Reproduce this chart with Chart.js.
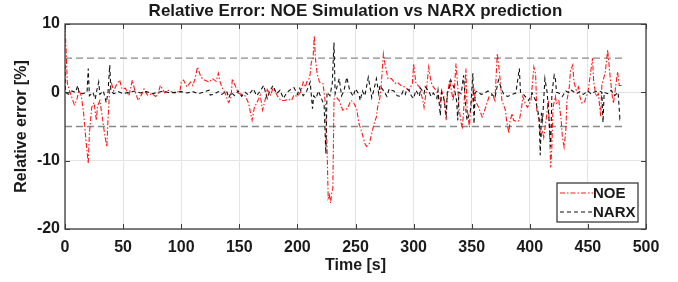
<!DOCTYPE html>
<html>
<head>
<meta charset="utf-8">
<script src="https://cdn.jsdelivr.net/npm/chart.js@4.4.1/dist/chart.umd.min.js"></script>
<style>
  html, body { margin: 0; padding: 0; background: #fff; }
  #wrap { width: 678px; height: 282px; }
</style>
</head>
<body>
<div id="wrap"><canvas id="err-chart" width="678" height="282"></canvas></div>
<script>
// NOE simulation relative error [%] vs time [s]
const noeTime = [0, 1, 2, 4, 6, 8, 10, 12, 14, 16, 18, 20, 21, 23, 25, 27, 28, 30, 32, 34, 36, 37, 38.5, 40, 42, 44, 47, 49, 52, 55, 58, 60, 63, 66, 68, 71, 75, 78, 80, 82, 86, 89, 94, 99, 100, 102, 105, 108, 110, 112, 114, 117, 120, 124, 127, 130, 132, 133, 135, 138, 140, 141, 143, 144, 145, 147, 149, 152, 155, 158, 161, 163, 166, 168, 170, 173, 174, 177, 179, 181, 183, 186, 189, 192, 195, 197, 200, 203, 205, 207, 208, 210, 211, 212, 213.5, 214.5, 215.5, 217, 219, 222, 224, 225.5, 226.5, 227.5, 228.5, 229.5, 230.5, 231.5, 234, 236, 239, 243, 246, 248, 251, 253, 255, 256.5, 258, 259.5, 262, 264, 266, 268, 269, 271, 272, 273, 274, 275.5, 277, 278, 281, 284, 286, 289, 292, 293, 296, 299, 300, 302, 305, 308, 309, 311, 313, 315, 317, 320, 321, 323, 324, 326, 328, 329, 331, 332, 334, 335, 336.5, 338, 339, 341, 342, 343, 345, 346, 348, 349, 352, 353, 356, 359, 362, 365, 368, 370, 372, 374, 376, 379, 380, 382, 383, 385, 386, 389, 391, 393, 394, 396, 398, 399, 401, 403.5, 405, 406, 408, 409.5, 411, 412, 414, 416, 417, 418, 419, 420, 422, 423, 425, 427, 428, 429.5, 431, 432, 434, 435, 437, 438, 440, 442, 443, 445, 447, 450, 454, 455, 457, 459, 461, 462, 465, 467, 469, 471, 472, 474, 475.5, 477, 480];
const noeError = [9.5, 6, 1.3, 0.2, -0.8, -1.8, -1.2, 0.3, -0.5, -3, -7, -10.4, -6, -2.2, -1.5, -4.1, -2, -1.2, -3.5, -6, -8, -4, 0.6, 1.3, 0.2, 1, 1.8, 0.5, 0.6, -0.5, 1.8, 0.3, -1.2, -0.3, 0.5, -0.4, -0.2, -0.6, -0.3, 1.0, -0.1, 0.3, -0.1, 0.2, 1.5, 1.8, 0.8, 1.5, 1.0, 2.0, 3.7, 2.2, 1.8, 1.5, 2.0, 1.6, 2.8, 1.8, 0.8, -0.2, -1.2, -1.5, -0.6, 2.0, 1.5, 0.8, -0.1, -0.3, -0.5, -1.6, -4.1, -2.2, -1.2, -0.4, -2.6, -0.6, 0.4, -0.4, 0.6, 0.1, -0.6, -1.2, -1.2, -1.0, -1.2, -0.4, -0.6, 0.1, 1.5, 0.8, 1.5, 2.0, 2.7, 4.4, 5, 8.3, 5, 2.7, 1.5, 1.3, -1.5, -8, -15.5, -15.0, -16.2, -14.8, -14, -1.0, -0.8, -1.2, -2.6, -2.4, -1.2, -1.4, -2.4, -4.6, -5.6, -6.5, -7.5, -7.9, -7.5, -6, -4.6, -3.6, -2.2, -0.8, 0.7, 3.2, 5.6, 4.0, 2.8, 2.0, 2.0, 1.3, 1.5, 1.0, 0.8, 0.7, 0.3, 1.3, 4.2, 1.3, 0.8, -1.2, -2.2, 0.3, 3.7, 1.5, 0.8, 0.1, -0.6, -1.6, 0.3, -0.6, -4.1, -0.6, 1.8, 0.8, -1.2, 0.3, 4.2, 0.8, -2.2, -4.6, -5.1, -3.0, 3.5, -2.2, -5.1, -2.6, 0.7, -1.2, -2.2, -3.6, -2.2, -0.6, -0.4, -1.2, 5.7, 2.8, -1.2, -2.6, -4.1, -6.0, -4.1, -3.1, -4.1, -4.3, -4.1, -2.2, -0.6, -1.6, -2.2, -1.9, -1.2, 3.7, 2.7, -2.6, -4.1, -6.6, -5.6, -6.6, -4.1, -1.2, -6.0, -11, -8, -2.2, -0.6, -1.6, -1.2, -4.1, -6.5, -8.0, -5.6, -1.2, 0.8, 3.2, 4.0, 1.5, 0.3, 0.8, -0.6, -1.6, -1.4, 0, 5.0, 1.5, -0.6, -0.2, -3.5, 1.0, 3, 6.2, 2.5, -0.6, -1.6, 1, 3.0, 1.0, 1.0];

// NARX prediction relative error [%] vs time [s]
const narxTime = [0, 0.5, 3, 6, 9, 11, 12, 15, 19, 20, 21, 24, 26, 27, 29, 30, 33, 35.5, 37, 38.5, 39.5, 42, 46, 50, 55, 60, 65, 70, 75, 80, 85, 90, 95, 100, 105, 110, 115, 120, 124, 125, 128, 132, 135, 139, 141, 143, 146, 149, 152, 155, 158, 162, 165, 168, 171, 174, 176, 179, 182, 185, 188, 191, 194, 197, 200, 202, 205, 208, 211, 213, 214, 216, 218, 220, 223, 224.5, 225.5, 228, 230, 231.5, 232.5, 236, 238, 240, 242.5, 245, 248, 250, 253, 254, 256, 258, 261, 263, 264, 266, 268, 270, 271, 273, 275, 277, 279, 281, 283, 286, 289, 291, 293, 294, 296, 298, 300, 302, 305, 306, 309, 310, 313, 315, 317, 320, 321, 323, 324, 326, 328, 329, 331, 332, 335, 337, 338, 339, 341, 343, 345, 346, 349, 350, 351, 352, 353, 355, 358, 360, 364, 367, 370, 373, 376, 378, 381, 385, 388, 391, 392, 394, 396, 399, 402, 405, 408, 409, 410, 411, 413, 415, 416, 418, 419, 421, 422, 423, 425, 428, 431, 434, 436, 440, 443, 446, 450, 453, 456, 460, 462, 463, 464, 467, 470, 473, 476, 477.5, 478];
const narxError = [4, 0, -0.3, 0.2, 0, 1.0, 0, -0.2, 0, 3.5, -0.5, 0, -1.0, 0, 1.5, -0.3, 0.2, -1.5, 0, 4, 0.2, -0.2, 0.1, -0.2, 0, 0.2, -0.1, 0.1, -0.2, 0, 0.2, -0.1, 0, 0.1, -0.1, 0.1, -0.2, 0.1, 0.3, -0.4, -0.3, 0.1, -0.3, 0.2, -0.8, 0, -0.5, 0.2, -0.6, 0, -0.4, 0.5, -0.5, 0.2, 1.0, -0.9, 0.1, 1.0, -0.2, 0.3, -0.9, 0, 0.4, 0.7, -0.3, 0.6, -0.5, 0.2, 1.5, -2.4, -0.5, -0.9, 0.2, -0.6, -1.9, -9, 0, -0.5, 1.3, 7.3, -0.2, 2.0, -0.5, 0.2, 2.2, 0.3, -0.6, 0.5, -0.3, -1.2, 0.2, -0.5, 2.2, 0.3, -0.8, 0.5, 2.0, -0.2, 1.0, 0.5, 0, -0.6, 0.5, 0.3, 0.2, -0.5, -0.6, 0.2, -0.3, 0.5, 0.3, -0.5, -0.9, 0.3, -0.6, 0.6, -0.2, 0.8, 0.2, -0.6, -0.1, -0.9, 0.3, -3.4, 0, -0.9, -3.1, 0, 0.8, 1.8, 0.6, -1.2, -4.1, 0, -0.2, 2.5, -2.5, -4.1, -2.6, 0, 2.8, -4.6, 0, 0.2, -0.3, -0.2, 0.2, -0.2, -0.8, 1.8, 0.3, -0.4, -0.6, -0.3, -0.1, 3.5, 0, -0.2, -0.6, -1.2, -0.1, -1.2, -3.6, -9.2, -3, -4.1, 2.0, -0.1, -2.6, -8, -0.2, 2.5, 2.0, 0, -0.1, -0.6, 0.2, -0.1, 0.3, -0.2, 0.1, -0.3, 0.2, -0.3, 0.1, 0.2, 0, -4.4, 0, -0.2, 0.3, -0.5, 0, -3.8, -3.5];

// +/-5 % tolerance band
const bandTime = [0, 480];
const bandUpper = [5, 5];
const bandLower = [-5, -5];

const xRange = [0, 500];
const yRange = [-20, 10];

const toPoints = (xs, ys) => xs.map((x, i) => ({ x, y: ys[i] }));

Chart.defaults.font.family = "'Liberation Sans', Arial, sans-serif";
Chart.defaults.font.weight = 'bold';
Chart.defaults.color = '#1a1a1a';

// axes frame, inward ticks, titles and the legend box (matlab look)
const decorPlugin = {
  id: 'decor',
  afterDraw(chart) {
    const { ctx, chartArea: a, scales } = chart;
    ctx.save();
    ctx.strokeStyle = '#3c3c3c';
    ctx.lineWidth = 1.3;
    ctx.strokeRect(a.left, a.top, a.right - a.left, a.bottom - a.top);

    ctx.lineWidth = 1;
    ctx.beginPath();
    scales.x.ticks.forEach(t => {
      const px = Math.round(scales.x.getPixelForValue(t.value)) + 0.5;
      ctx.moveTo(px, a.bottom); ctx.lineTo(px, a.bottom - 5);
      ctx.moveTo(px, a.top); ctx.lineTo(px, a.top + 5);
    });
    scales.y.ticks.forEach(t => {
      const py = Math.round(scales.y.getPixelForValue(t.value)) + 0.5;
      ctx.moveTo(a.left, py); ctx.lineTo(a.left + 5, py);
      ctx.moveTo(a.right, py); ctx.lineTo(a.right - 5, py);
    });
    ctx.stroke();

    ctx.fillStyle = '#1a1a1a';
    ctx.textAlign = 'center';
    ctx.textBaseline = 'middle';
    ctx.font = "bold 17px 'Liberation Sans', Arial, sans-serif";
    ctx.fillText('Relative Error: NOE Simulation vs NARX prediction', (a.left + a.right) / 2, 11);

    ctx.font = "bold 16px 'Liberation Sans', Arial, sans-serif";
    ctx.fillText('Time [s]', (a.left + a.right) / 2, 266);

    ctx.save();
    ctx.translate(22, (a.top + a.bottom) / 2);
    ctx.rotate(-Math.PI / 2);
    ctx.fillText('Relative error [%]', 0, 0);
    ctx.restore();

    // legend
    const lx = 557, ly = 183, lw = 81, lh = 39;
    ctx.fillStyle = '#fff';
    ctx.fillRect(lx, ly, lw, lh);
    ctx.strokeStyle = '#3c3c3c';
    ctx.lineWidth = 1.3;
    ctx.strokeRect(lx, ly, lw, lh);
    const items = chart.data.datasets.filter(d => d.inLegend);
    items.forEach((d, i) => {
      const y = ly + 10 + i * 19;
      ctx.strokeStyle = d.borderColor;
      ctx.lineWidth = 1.2;
      ctx.setLineDash(d.borderDash);
      ctx.beginPath();
      ctx.moveTo(lx + 3, y); ctx.lineTo(lx + 36, y);
      ctx.stroke();
      ctx.setLineDash([]);
      ctx.fillStyle = '#1a1a1a';
      ctx.textAlign = 'left';
      ctx.font = "bold 15px 'Liberation Sans', Arial, sans-serif";
      ctx.fillText(d.label, lx + 36, y + 1);
    });
    ctx.restore();
  }
};

const ctx = document.getElementById('err-chart');

new Chart(ctx, {
  type: 'line',
  data: {
    datasets: [
      {
        label: 'NOE',
        inLegend: true,
        data: toPoints(noeTime, noeError),
        borderColor: 'rgba(255, 0, 0, 0.9)',
        borderWidth: 1.1,
        borderDash: [5, 2, 1.5, 2],
        pointRadius: 0,
        tension: 0,
        order: 2
      },
      {
        label: 'NARX',
        inLegend: true,
        data: toPoints(narxTime, narxError),
        borderColor: '#111',
        borderWidth: 1.1,
        borderDash: [4, 3],
        pointRadius: 0,
        tension: 0,
        order: 1
      },
      {
        label: 'upper',
        data: toPoints(bandTime, bandUpper),
        borderColor: '#8a8a8a',
        borderWidth: 1.4,
        borderDash: [7, 4],
        pointRadius: 0,
        order: 3
      },
      {
        label: 'lower',
        data: toPoints(bandTime, bandLower),
        borderColor: '#8a8a8a',
        borderWidth: 1.4,
        borderDash: [7, 4],
        pointRadius: 0,
        order: 3
      }
    ]
  },
  options: {
    responsive: false,
    animation: false,
    devicePixelRatio: 1,
    layout: { padding: { top: 24, right: 32, left: 0, bottom: 0 } },
    plugins: {
      legend: { display: false },
      title: { display: false },
      tooltip: { enabled: false }
    },
    scales: {
      x: {
        type: 'linear',
        min: xRange[0],
        max: xRange[1],
        ticks: {
          stepSize: 50,
          padding: 9,
          maxRotation: 0,
          autoSkip: false,
          color: '#1a1a1a',
          font: { size: 16, weight: 'bold' }
        },
        grid: { color: '#e4e4e4', drawTicks: false },
        border: { display: false },
        afterFit(scale) { scale.height = 53; }
      },
      y: {
        min: yRange[0],
        max: yRange[1],
        ticks: {
          stepSize: 10,
          padding: 5,
          color: '#1a1a1a',
          font: { size: 16, weight: 'bold' }
        },
        grid: { color: '#e4e4e4', drawTicks: false },
        border: { display: false },
        afterFit(scale) { scale.width = 65; }
      }
    }
  },
  plugins: [decorPlugin]
});
</script>
</body>
</html>
